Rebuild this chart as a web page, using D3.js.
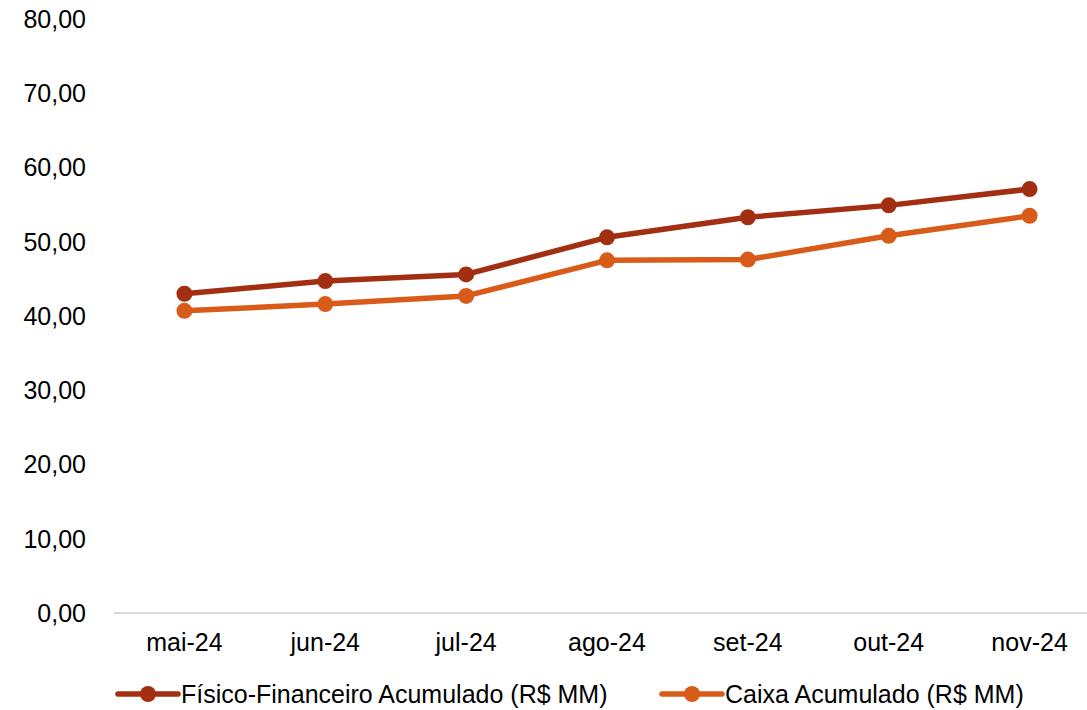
<!DOCTYPE html>
<html>
<head>
<meta charset="utf-8">
<script src="https://cdn.jsdelivr.net/npm/d3@7"></script>
<style>
  body { margin: 0; background: #fff; }
  svg { display: block; font-family: "Liberation Sans", Arial, sans-serif; }
</style>
</head>
<body>
<div id="chart"></div>
<script>
// dados
const meses = ['mai-24', 'jun-24', 'jul-24', 'ago-24', 'set-24', 'out-24', 'nov-24'];
const fisicoFinanceiro = [43.0, 44.7, 45.6, 50.6, 53.3, 54.9, 57.1];
const caixa = [40.7, 41.6, 42.7, 47.5, 47.6, 50.8, 53.5];
const yTicks = [0, 10, 20, 30, 40, 50, 60, 70, 80];

const series = [
    { name: 'Físico-Financeiro Acumulado (R$ MM)', values: fisicoFinanceiro, color: '#A32F12' },
    { name: 'Caixa Acumulado (R$ MM)', values: caixa, color: '#D95B19' }
];

const width = 1087, height = 710;
const fontSize = 25;
const svg = d3.select('#chart').append('svg')
    .attr('width', width)
    .attr('height', height);

const x = d3.scaleBand().domain(meses).range([114, 1100]);
const y = d3.scaleLinear().domain([0, 80]).range([613, 19]);

// eixo Y (só rótulos)
svg.append('g')
    .selectAll('text')
    .data(yTicks)
    .enter().append('text')
    .attr('x', 86)
    .attr('y', d => y(d))
    .attr('dy', '0.35em')
    .attr('text-anchor', 'end')
    .attr('font-size', fontSize)
    .attr('fill', '#000')
    .text(d => d3.format('.2f')(d).replace('.', ','));

// linha base
svg.append('line')
    .attr('x1', 114).attr('x2', 1100)
    .attr('y1', y(0)).attr('y2', y(0))
    .attr('stroke', '#d9d9d9')
    .attr('stroke-width', 2);

// rótulos X
svg.append('g')
    .selectAll('text')
    .data(meses)
    .enter().append('text')
    .attr('x', d => x(d) + x.bandwidth() / 2)
    .attr('y', 642)
    .attr('dy', '0.35em')
    .attr('text-anchor', 'middle')
    .attr('font-size', fontSize)
    .attr('fill', '#000')
    .text(d => d);

const line = d3.line()
    .x((d, i) => x(meses[i]) + x.bandwidth() / 2)
    .y(d => y(d));

series.forEach(s => {
    const g = svg.append('g');
    g.append('path')
        .datum(s.values)
        .attr('d', line)
        .attr('fill', 'none')
        .attr('stroke', s.color)
        .attr('stroke-width', 5.5)
        .attr('stroke-linejoin', 'round');
    g.selectAll('circle')
        .data(s.values)
        .enter().append('circle')
        .attr('cx', (d, i) => x(meses[i]) + x.bandwidth() / 2)
        .attr('cy', d => y(d))
        .attr('r', 8)
        .attr('fill', s.color);
});

// legenda
const legendX = [118, 662];
series.forEach((s, i) => {
    const lg = svg.append('g').attr('transform', `translate(${legendX[i]},694)`);
    lg.append('line')
        .attr('x1', 0).attr('x2', 60)
        .attr('stroke', s.color)
        .attr('stroke-width', 5.5)
        .attr('stroke-linecap', 'round');
    lg.append('circle')
        .attr('cx', 30)
        .attr('r', 8)
        .attr('fill', s.color);
    lg.append('text')
        .attr('x', 63)
        .attr('dy', '0.35em')
        .attr('font-size', fontSize)
        .attr('fill', '#000')
        .text(s.name);
});
</script>
</body>
</html>
